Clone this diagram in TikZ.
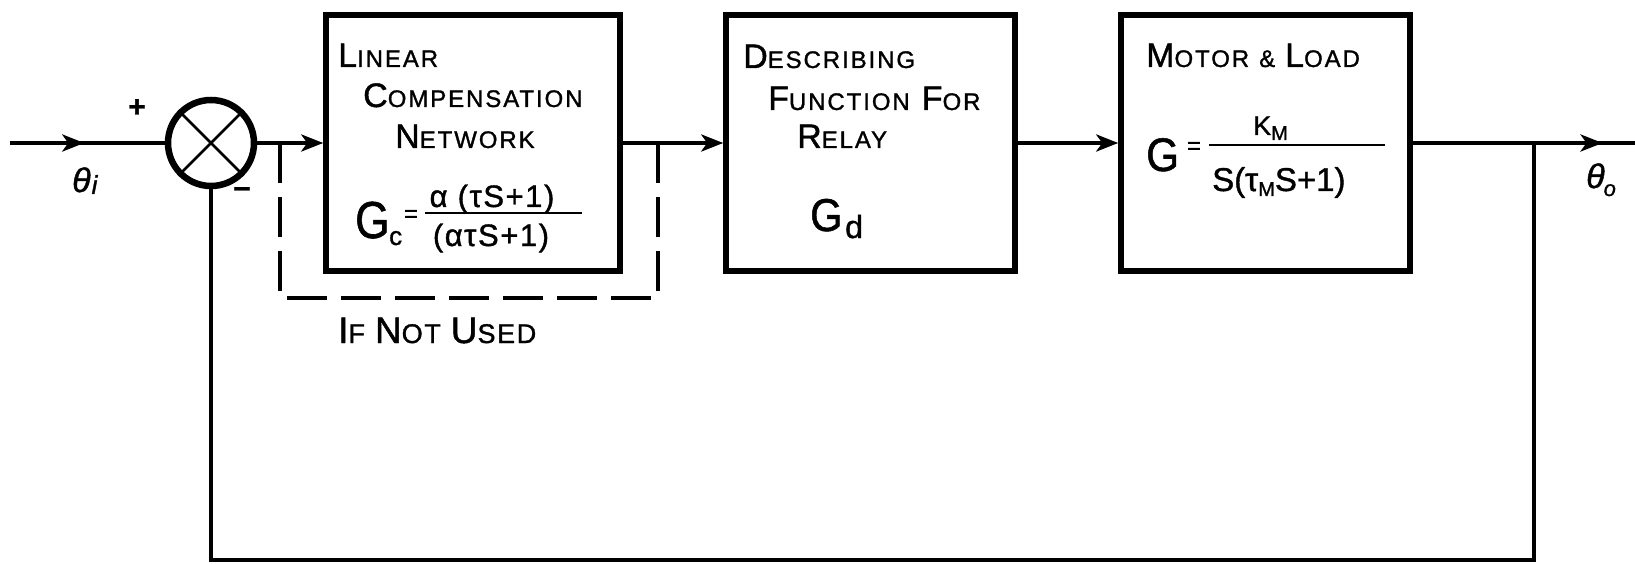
\documentclass[tikz,border=0pt]{standalone}
\usepackage{fontspec}
\setmainfont{Liberation Sans}[FakeBold=1.2]
\usetikzlibrary{arrows.meta,decorations.markings}
\newcommand{\SC}[2]{{\fontsize{34}{38}\selectfont #1}{\fontsize{24}{28}\selectfont\addfontfeature{LetterSpace=8}#2}}
\newcommand{\SCb}[2]{{\fontsize{37}{40}\selectfont #1}{\fontsize{27}{30}\selectfont\addfontfeature{LetterSpace=6}#2}}
\newcommand{\fs}[1]{\fontsize{#1}{#1}\selectfont}
\begin{document}
\begin{tikzpicture}[x=1pt,y=-1pt,
  blk/.style={draw, line width=5.5pt, minimum width=289pt, minimum height=256pt, inner sep=0pt},
  sig/.style={line width=4pt},
  tipend/.style={-{Stealth[length=22pt,width=17pt,inset=6pt]}},
  midtip/.style={postaction=decorate, decoration={markings, mark=at position #1 with {\arrow{Stealth[length=22pt,width=17pt,inset=6pt]}}}},
  ifbox/.style={line width=4.5pt, dash pattern=on 40pt off 14pt},
  lbl/.style={inner sep=0pt, anchor=base west},
  fracbar/.style={line width=2.5pt}
]
\useasboundingbox (0,0) rectangle (1635,564);
\fill[white] (0,0) rectangle (1635,564);

% summing junction
\coordinate (in) at (10,143);
\node[circle, draw, line width=6.5pt, minimum size=86pt, inner sep=0pt] (sum) at (211,143) {};
\draw[line width=2.5pt] (sum.45) -- (sum.225) (sum.135) -- (sum.-45);

% blocks
\node[blk, minimum width=294pt] (comp) at (473,143) {};
\node[blk] (df) at (870.5,143) {};
\node[blk] (motor) at (1265.5,143) {};

% signal lines
\coordinate (out) at (1635,143);
\coordinate (br) at (1534,143);
\coordinate (fb) at (1534,560);
\draw[sig, midtip=0.48] (in) -- (sum.west);
\draw[sig, tipend] (sum.east) -- (comp.west);
\draw[sig, tipend] (comp.east) -- (df.west);
\draw[sig, tipend] (df.east) -- (motor.west);
\draw[sig, midtip=0.854] (motor.east) -- (out);
\draw[sig] (br) |- (sum.south |- fb) -- (sum.south);

% bypass (dashed)
\coordinate (dl) at (280,143);
\coordinate (dr) at (658,143);
\draw[ifbox] (dl) -- (280,298) -- (658,298) -- (dr);

% labels at junction
\node (plus) at (137,108) {\fs{30}\bfseries +};
\node (minus) at (242,193) {\fs{30}\bfseries −};
\node[lbl] (thi) at (72,192) {\fs{34}\itshape θ\kern1pt\raisebox{-2pt}{\fs{26}i}};
\node[lbl] (tho) at (1586,188) {\fs{34}\itshape θ\kern-1pt\raisebox{-8pt}{\fs{22}o}};

% block 1 text
\node[lbl] (t1) at (338,67) {\SC{L}{INEAR}};
\node[lbl] (t2) at (363,107) {\SC{C}{OMPENSATION}};
\node[lbl] (t3) at (395,148) {\SC{N}{ETWORK}};
\node[lbl] (gc) at (355,238) {\scalebox{0.85}[1]{\fs{52}G}};
\node[lbl] (gcs) at (389,245) {\fs{26}c};
\node (gceq) at (411,216) {\fs{24}=};
\node[anchor=base] (gcn) at (492,207) {\fs{31}\addfontfeature{LetterSpace=5}α (τS+1)};
\draw[fracbar] (425,213) -- (582,213);
\node[anchor=base] (gcd) at (491,246) {\fs{31}\addfontfeature{LetterSpace=5}(ατS+1)};

% block 2 text
\node[lbl] (u1) at (743,68) {\SC{D}{ESCRIBING}};
\node[lbl] (u2) at (768,110) {\SC{F}{UNCTION}\hspace{12pt}\SC{F}{OR}};
\node[lbl] (u3) at (797,148) {\SC{R}{ELAY}};
\node[lbl] (gd) at (810,231) {\scalebox{0.9}[1]{\fs{46}G}};
\node[lbl] (gds) at (845,238) {\fs{32}d};

% block 3 text
\node[lbl] (v1) at (1146,67) {\SC{M}{OTOR}\hspace{10pt}{\fs{24}\&}\hspace{10pt}\SC{L}{OAD}};
\node[lbl] (mg) at (1146,171) {\scalebox{0.9}[1]{\fs{47}G}};
\node (meq) at (1194,148) {\fs{24}=};
\node[lbl] (mn) at (1253,135) {\fs{27}K\raisebox{-5pt}{\fs{20}M}};
\draw[fracbar] (1209,145) -- (1385,145);
\node[lbl] (md) at (1212,191) {\fs{33}S(τ\raisebox{-5pt}{\fs{20}M}S+1)};

% note
\node[lbl] (ifnot) at (338,343) {\SCb{I}{F}\hspace{10pt}\SCb{N}{OT}\hspace{10pt}\SCb{U}{SED}};
\end{tikzpicture}
\end{document}
